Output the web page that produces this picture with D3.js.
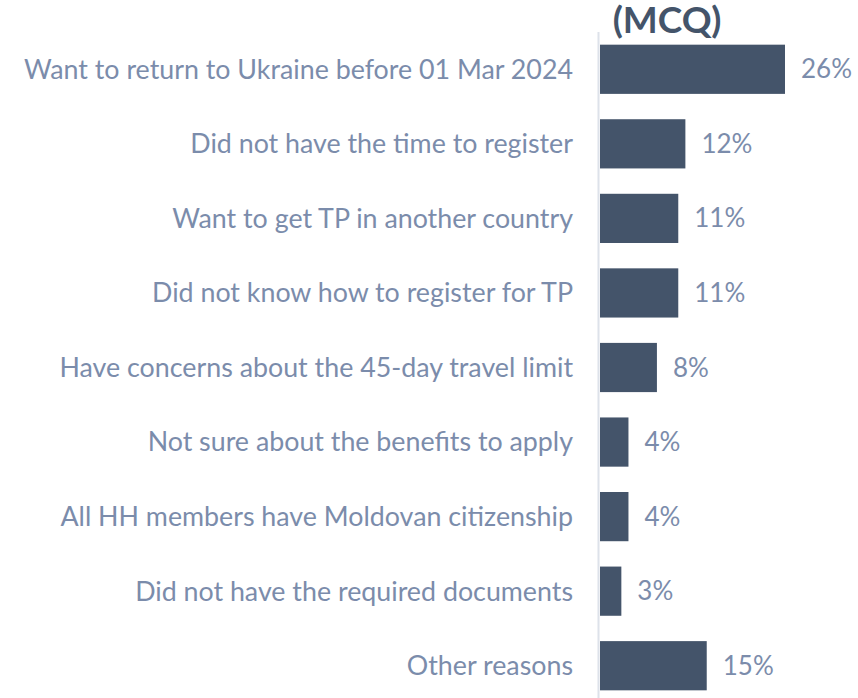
<!DOCTYPE html>
<html>
<head>
<meta charset="utf-8">
<script src="https://cdn.jsdelivr.net/npm/d3@7"></script>
<style>
    body { margin: 0; background: #fff; }
    svg text { font-family: Lato, "Open Sans", sans-serif; }
</style>
</head>
<body>
<div id="chart"></div>
<script>
var reasons = [
    "Want to return to Ukraine before 01 Mar 2024",
    "Did not have the time to register",
    "Want to get TP in another country",
    "Did not know how to register for TP",
    "Have concerns about the 45-day travel limit",
    "Not sure about the benefits to apply",
    "All HH members have Moldovan citizenship",
    "Did not have the required documents",
    "Other reasons"
];
var shares = [26, 12, 11, 11, 8, 4, 4, 3, 15];
var title = "(MCQ)";

var width = 858, height = 698;
var x0 = 600;
var barColor = "#44546a";
var labelColor = "#7b8cab";

var svg = d3.select("#chart").append("svg")
    .attr("width", width)
    .attr("height", height);

var x = d3.scaleLinear().domain([0, 26]).range([x0, 785]);
var y = d3.scaleBand().domain(reasons).range([32, 703]).paddingInner(0.34).paddingOuter(0.17);

// axis line
svg.append("line")
    .attr("x1", x0 - 1.5).attr("x2", x0 - 1.5)
    .attr("y1", 32).attr("y2", height)
    .attr("stroke", "#dde2ea")
    .attr("stroke-width", 2);

// title is cut at the top edge like the original
svg.append("text")
    .attr("x", 667)
    .attr("y", 33)
    .attr("text-anchor", "middle")
    .attr("font-size", 37)
    .attr("font-weight", "bold")
    .attr("fill", barColor)
    .text(title);

var rows = svg.selectAll("g.row").data(reasons).enter().append("g").attr("class", "row");

rows.append("rect")
    .attr("x", x0)
    .attr("y", function (d) { return y(d); })
    .attr("width", function (d, i) { return x(shares[i]) - x0; })
    .attr("height", y.bandwidth())
    .attr("fill", barColor);

rows.append("text")
    .attr("x", 573)
    .attr("y", function (d) { return y(d) + y.bandwidth() / 2; })
    .attr("dy", "0.35em")
    .attr("text-anchor", "end")
    .attr("font-size", 26.8)
    .attr("fill", labelColor)
    .text(function (d) { return d; });

rows.append("text")
    .attr("x", function (d, i) { return x(shares[i]) + 16; })
    .attr("y", function (d) { return y(d) + y.bandwidth() / 2; })
    .attr("dy", "0.35em")
    .attr("font-size", 26)
    .attr("fill", labelColor)
    .text(function (d, i) { return shares[i] + "%"; });
</script>
</body>
</html>
